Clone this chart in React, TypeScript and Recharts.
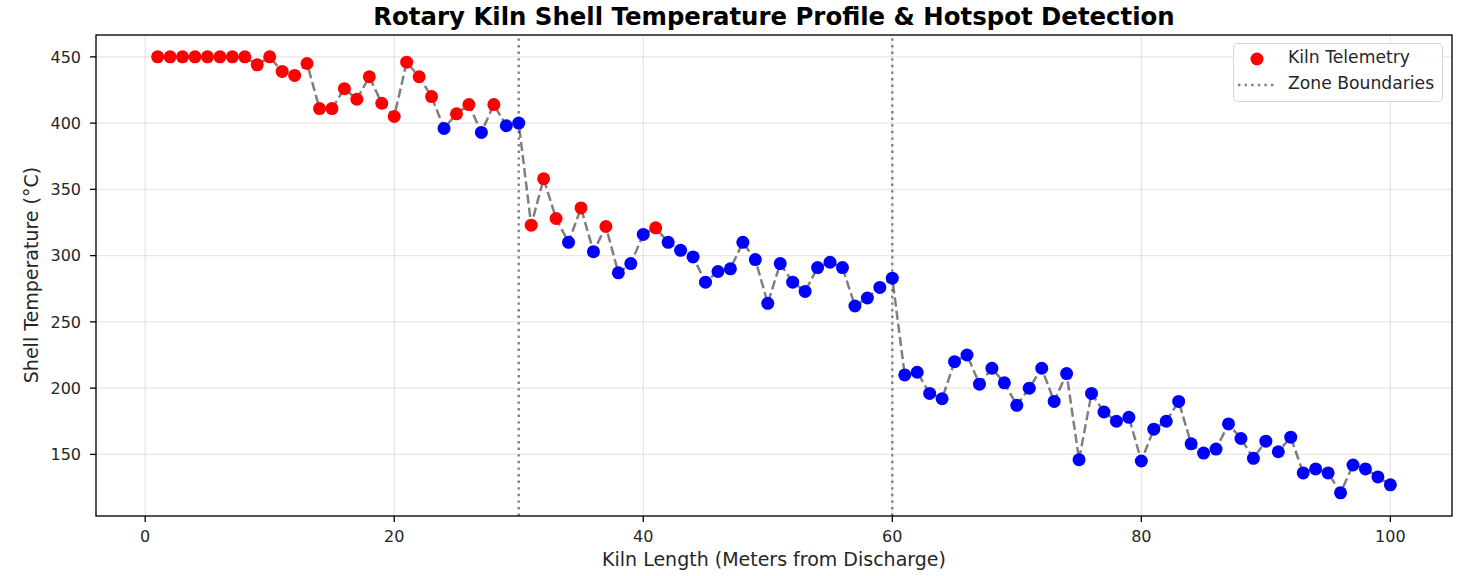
import {
  CartesianGrid,
  ComposedChart,
  Line,
  ReferenceLine,
  Scatter,
  XAxis,
  YAxis
} from "recharts";

// kiln position (m from discharge) and measured shell temperature
const positions = [
  1, 2, 3, 4, 5, 6, 7, 8, 9, 10,
  11, 12, 13, 14, 15, 16, 17, 18, 19, 20,
  21, 22, 23, 24, 25, 26, 27, 28, 29, 30,
  31, 32, 33, 34, 35, 36, 37, 38, 39, 40,
  41, 42, 43, 44, 45, 46, 47, 48, 49, 50,
  51, 52, 53, 54, 55, 56, 57, 58, 59, 60,
  61, 62, 63, 64, 65, 66, 67, 68, 69, 70,
  71, 72, 73, 74, 75, 76, 77, 78, 79, 80,
  81, 82, 83, 84, 85, 86, 87, 88, 89, 90,
  91, 92, 93, 94, 95, 96, 97, 98, 99, 100
];

const temps = [
  450, 450, 450, 450, 450, 450, 450, 450, 444, 450,
  439, 436, 445, 411, 411, 426, 418, 435, 415, 405,
  446, 435, 420, 396, 407, 414, 393, 414, 398, 400,
  323, 358, 328, 310, 336, 303, 322, 287, 294, 316,
  321, 310, 304, 299, 280, 288, 290, 310, 297, 264,
  294, 280, 273, 291, 295, 291, 262, 268, 276, 283,
  210, 212, 196, 192, 220, 225, 203, 215, 204, 187,
  200, 215, 190, 211, 146, 196, 182, 175, 178, 145,
  169, 175, 190, 158, 151, 154, 173, 162, 147, 160,
  152, 163, 136, 139, 136, 121, 142, 139, 133, 127
];

// readings flagged above their zone threshold
const hotspots = [
  1, 2, 3, 4, 5, 6, 7, 8, 9, 10, 11, 12, 13, 14, 15, 16, 17, 18, 19, 20,
  21, 22, 23, 25, 26, 28, 31, 32, 33, 35, 37, 41
];

const zoneBoundaries = [30, 60];
const xTicks = [0, 20, 40, 60, 80, 100];
const yTicks = [150, 200, 250, 300, 350, 400, 450];
const xDomain = [-3.95, 104.95];
const yDomain = [103.5, 466.5];

const rows = positions.map((pos, i) => ({
  pos,
  temp: temps[i],
  hot: hotspots.includes(pos)
}));

const FONT = "'DejaVu Sans', Verdana, sans-serif";
const tickStyle = { fontSize: 16, fill: "#262626", fontFamily: FONT };

// plot box, matches the chart margins + axis sizes below
const PLOT = { left: 96, top: 35, width: 1356, height: 481 };

const renderDot = (props: any) => {
  const { cx, cy, payload } = props;
  if (cx == null || cy == null) return <g />;
  return <circle cx={cx} cy={cy} r={6.5} fill={payload.hot ? "#ff0000" : "#0000ff"} />;
};

export default function App() {
  return (
    <div
      style={{
        position: "absolute",
        left: 0,
        top: 0,
        width: 1462,
        height: 576,
        background: "#fff",
        fontFamily: FONT
      }}
    >
      <ComposedChart
        width={1462}
        height={576}
        data={rows}
        margin={{ top: PLOT.top, right: 1462 - PLOT.left - PLOT.width, bottom: 0, left: 0 }}
      >
        <CartesianGrid stroke="#b0b0b0" strokeOpacity={0.3} strokeWidth={1.3} />
        <XAxis
          dataKey="pos"
          type="number"
          domain={xDomain}
          ticks={xTicks}
          allowDataOverflow
          height={576 - PLOT.top - PLOT.height}
          tick={tickStyle}
          tickSize={6}
          tickMargin={8.5}
          tickLine={{ stroke: "#000", strokeWidth: 1.3 }}
          axisLine={false}
        />
        <YAxis
          type="number"
          domain={yDomain}
          ticks={yTicks}
          allowDataOverflow
          width={PLOT.left}
          tick={tickStyle}
          tickSize={6}
          tickMargin={9}
          tickLine={{ stroke: "#000", strokeWidth: 1.3 }}
          axisLine={false}
        />
        {zoneBoundaries.map((x) => (
          <ReferenceLine
            key={x}
            x={x}
            stroke="#808080"
            strokeWidth={2.4}
            strokeDasharray="2.4 4.2"
          />
        ))}
        <Scatter dataKey="temp" shape={renderDot} isAnimationActive={false} />
        <Line
          dataKey="temp"
          type="linear"
          stroke="#000"
          strokeOpacity={0.5}
          strokeWidth={2.5}
          strokeDasharray="9.25 4"
          dot={false}
          activeDot={false}
          isAnimationActive={false}
        />
      </ComposedChart>

      {/* axes frame (all four spines) */}
      <svg
        width={1462}
        height={576}
        style={{ position: "absolute", left: 0, top: 0, pointerEvents: "none" }}
      >
        <rect
          x={PLOT.left}
          y={PLOT.top}
          width={PLOT.width}
          height={PLOT.height}
          fill="none"
          stroke="#000"
          strokeWidth={1.3}
        />
      </svg>

      <div
        style={{
          position: "absolute",
          left: PLOT.left,
          width: PLOT.width,
          top: 2,
          textAlign: "center",
          fontSize: 24.4,
          fontWeight: "bold",
          color: "#000",
          whiteSpace: "nowrap"
        }}
      >
        Rotary Kiln Shell Temperature Profile &amp; Hotspot Detection
      </div>

      <div
        style={{
          position: "absolute",
          left: PLOT.left,
          width: PLOT.width,
          top: 548,
          textAlign: "center",
          fontSize: 19,
          color: "#262626"
        }}
      >
        Kiln Length (Meters from Discharge)
      </div>

      <div
        style={{
          position: "absolute",
          left: 31,
          top: 275,
          transform: "translate(-50%, -50%) rotate(-90deg)",
          whiteSpace: "nowrap",
          fontSize: 19,
          color: "#262626"
        }}
      >
        Shell Temperature (°C)
      </div>

      <div
        style={{
          position: "absolute",
          left: 1233,
          top: 43,
          width: 210,
          height: 59,
          border: "1px solid #d6d6d6",
          borderRadius: 5,
          background: "rgba(255,255,255,0.8)",
          boxSizing: "border-box",
          fontSize: 17.2,
          color: "#262626"
        }}
      >
        <svg width={50} height={59} style={{ position: "absolute", left: 0, top: 0 }}>
          <circle cx={23} cy={15} r={6.5} fill="#ff0000" />
          <line
            x1={4}
            x2={41}
            y1={41}
            y2={41}
            stroke="#808080"
            strokeWidth={2.4}
            strokeDasharray="2.4 4.2"
          />
        </svg>
        <div style={{ position: "absolute", left: 54, top: 3, whiteSpace: "nowrap" }}>
          Kiln Telemetry
        </div>
        <div style={{ position: "absolute", left: 54, top: 29, whiteSpace: "nowrap" }}>
          Zone Boundaries
        </div>
      </div>
    </div>
  );
}
